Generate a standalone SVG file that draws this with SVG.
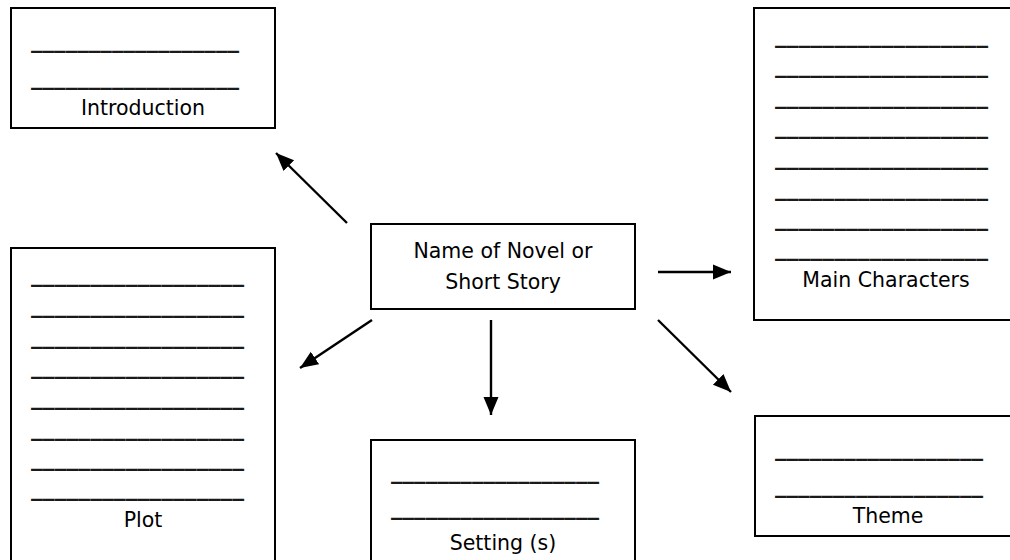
<svg xmlns="http://www.w3.org/2000/svg" width="1010" height="560" viewBox="0 0 1010 560">
  <style>
    .box { fill: #fff; stroke: #000; stroke-width: 2; }
    .lbl { font-family: "DejaVu Sans", "Liberation Sans", sans-serif; font-size: 20.5px; fill: #000; text-anchor: middle; }
    .blank { font-family: "DejaVu Sans", "Liberation Sans", sans-serif; font-size: 24px; font-weight: bold; fill: #1a1a1a; }
    .conn { stroke: #000; stroke-width: 2.4; fill: none; marker-end: url(#arrow); }
  </style>
  <defs>
    <marker id="arrow" markerUnits="userSpaceOnUse" markerWidth="19" markerHeight="17" refX="18" refY="8.5" orient="auto">
      <path d="M0,1 L18,8.5 L0,16 z" fill="#000"/>
    </marker>
  </defs>
  <rect width="1010" height="560" fill="#fff"/>

  <g id="introduction">
    <rect class="box" x="11" y="8" width="264" height="120"/>
    <text class="blank" x="31" y="47" textLength="208" lengthAdjust="spacingAndGlyphs">__________________</text>
    <text class="blank" x="31" y="84" textLength="208" lengthAdjust="spacingAndGlyphs">__________________</text>
    <text class="lbl" x="143" y="115">Introduction</text>
  </g>

  <g id="center">
    <rect class="box" x="371" y="224" width="264" height="85"/>
    <text class="lbl" x="503" y="258">Name of Novel or</text>
    <text class="lbl" x="503" y="289">Short Story</text>
  </g>

  <g id="main-characters">
    <rect class="box" x="754" y="8" width="270" height="312"/>
    <text class="blank" x="775" y="42" textLength="213" lengthAdjust="spacingAndGlyphs">__________________</text>
    <text class="blank" x="775" y="72" textLength="213" lengthAdjust="spacingAndGlyphs">__________________</text>
    <text class="blank" x="775" y="103" textLength="213" lengthAdjust="spacingAndGlyphs">__________________</text>
    <text class="blank" x="775" y="133" textLength="213" lengthAdjust="spacingAndGlyphs">__________________</text>
    <text class="blank" x="775" y="164" textLength="213" lengthAdjust="spacingAndGlyphs">__________________</text>
    <text class="blank" x="775" y="195" textLength="213" lengthAdjust="spacingAndGlyphs">__________________</text>
    <text class="blank" x="775" y="225" textLength="213" lengthAdjust="spacingAndGlyphs">__________________</text>
    <text class="blank" x="775" y="255" textLength="213" lengthAdjust="spacingAndGlyphs">__________________</text>
    <text class="lbl" x="886" y="287">Main Characters</text>
  </g>

  <g id="plot">
    <rect class="box" x="11" y="248" width="264" height="320"/>
    <text class="blank" x="31" y="281" textLength="213" lengthAdjust="spacingAndGlyphs">__________________</text>
    <text class="blank" x="31" y="312" textLength="213" lengthAdjust="spacingAndGlyphs">__________________</text>
    <text class="blank" x="31" y="343" textLength="213" lengthAdjust="spacingAndGlyphs">__________________</text>
    <text class="blank" x="31" y="373" textLength="213" lengthAdjust="spacingAndGlyphs">__________________</text>
    <text class="blank" x="31" y="404" textLength="213" lengthAdjust="spacingAndGlyphs">__________________</text>
    <text class="blank" x="31" y="435" textLength="213" lengthAdjust="spacingAndGlyphs">__________________</text>
    <text class="blank" x="31" y="465" textLength="213" lengthAdjust="spacingAndGlyphs">__________________</text>
    <text class="blank" x="31" y="495" textLength="213" lengthAdjust="spacingAndGlyphs">__________________</text>
    <text class="lbl" x="143" y="527">Plot</text>
  </g>

  <g id="setting">
    <rect class="box" x="371" y="440" width="264" height="130"/>
    <text class="blank" x="391" y="478" textLength="208" lengthAdjust="spacingAndGlyphs">__________________</text>
    <text class="blank" x="391" y="514" textLength="208" lengthAdjust="spacingAndGlyphs">__________________</text>
    <text class="lbl" x="503" y="550">Setting (s)</text>
  </g>

  <g id="theme">
    <rect class="box" x="755" y="416" width="270" height="120"/>
    <text class="blank" x="775" y="455" textLength="208" lengthAdjust="spacingAndGlyphs">__________________</text>
    <text class="blank" x="775" y="492" textLength="208" lengthAdjust="spacingAndGlyphs">__________________</text>
    <text class="lbl" x="888" y="523">Theme</text>
  </g>

  <g id="connectors">
    <line class="conn" x1="347" y1="223" x2="276" y2="153"/>
    <line class="conn" x1="658" y1="272" x2="731" y2="272"/>
    <line class="conn" x1="372" y1="320" x2="300" y2="368"/>
    <line class="conn" x1="491" y1="320" x2="491" y2="415"/>
    <line class="conn" x1="658" y1="320" x2="731" y2="392"/>
  </g>
</svg>
